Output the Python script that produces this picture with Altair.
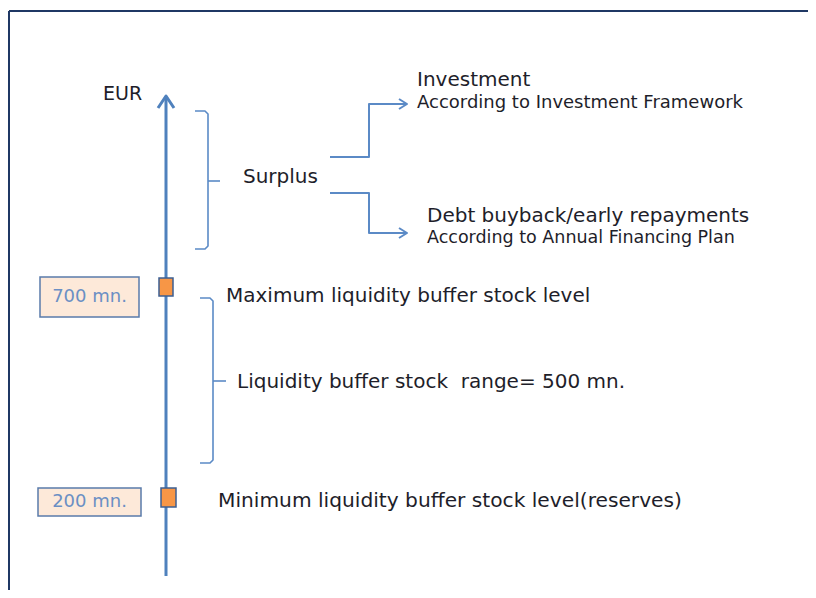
import altair as alt
import pandas as pd

# ---- diagram content (canvas coordinates, y grows downward) ----
# text labels
label_text = [
    "EUR",
    "Surplus",
    "Investment",
    "According to Investment Framework",
    "Debt buyback/early repayments",
    "According to Annual Financing Plan",
    "Maximum liquidity buffer stock level",
    "Liquidity buffer stock\u00a0 range= 500 mn.",
    "Minimum liquidity buffer stock level(reserves)",
]
label_x = [103, 243, 417, 417, 427, 427, 226, 237, 218]
label_y = [94, 177, 80, 103, 216, 238, 296, 382, 501]
label_size = [19, 20, 20, 18, 20, 17.5, 20, 20, 20.2]

# level boxes (700 mn. / 200 mn.)
level_text = ["700 mn.", "200 mn."]
box_x1 = [40, 38]
box_x2 = [139, 141]
box_y1 = [277, 488]
box_y2 = [317, 516]

# orange level markers on the axis
marker_x1 = [159, 161]
marker_x2 = [173, 176]
marker_y1 = [278, 488]
marker_y2 = [296, 507]

# polylines: (path id, list of x, list of y)
border_paths = {
    "top": ([9, 816], [11, 11]),
    "left": ([9, 9], [11, 598]),
}
axis_paths = {
    "axis": ([166, 166], [97, 576]),
    "head": ([158, 166, 174], [108, 96, 108]),
}
connector_paths = {
    "up": ([330, 369, 369, 406], [157, 157, 104, 104]),
    "up_head": ([399, 407, 399], [99, 104, 109]),
    "down": ([330, 369, 369, 406], [193, 193, 233, 233]),
    "down_head": ([399, 407, 399], [228, 233, 238]),
}
bracket_paths = {
    "b1": ([195, 205, 208, 208, 205, 195], [111, 111, 114, 246, 249, 249]),
    "b1_tick": ([208, 220], [181, 181]),
    "b2": ([200, 210, 213, 213, 210, 200], [298, 298, 301, 460, 463, 463]),
    "b2_tick": ([213, 226], [381, 381]),
}


def paths_df(paths):
    rows = []
    for pid, (xs, ys) in paths.items():
        for i, (x, y) in enumerate(zip(xs, ys)):
            rows.append({"path": pid, "o": i, "x": x, "y": y})
    return pd.DataFrame(rows)


X_SCALE = alt.Scale(domain=[8, 808], nice=False, zero=False)
Y_SCALE = alt.Scale(domain=[8, 590], nice=False, zero=False, reverse=True)


def line_layer(paths, color, width):
    return alt.Chart(paths_df(paths)).mark_line(
        color=color, strokeWidth=width, strokeJoin="round", strokeCap="butt"
    ).encode(
        x=alt.X("x:Q", scale=X_SCALE, axis=None),
        y=alt.Y("y:Q", scale=Y_SCALE, axis=None),
        detail="path:N",
        order="o:Q",
    )


BLUE = "#4f81bd"

border = line_layer(border_paths, "#1f3864", 2)
axis = line_layer(axis_paths, BLUE, 3)
connectors = line_layer(connector_paths, "#5b8ac6", 2)
brackets = line_layer(bracket_paths, "#5b8ac6", 1.6)

boxes_df = pd.DataFrame({
    "label": level_text, "x1": box_x1, "x2": box_x2, "y1": box_y1, "y2": box_y2,
})
boxes = alt.Chart(boxes_df).mark_rect(
    fill="#fde9d9", stroke="#5a7bab", strokeWidth=1.5
).encode(
    x=alt.X("x1:Q", scale=X_SCALE, axis=None), x2="x2:Q",
    y=alt.Y("y1:Q", scale=Y_SCALE, axis=None), y2="y2:Q",
)
box_text = alt.Chart(boxes_df).transform_calculate(
    cx="(datum.x1 + datum.x2) / 2", cy="(datum.y1 + datum.y2) / 2"
).mark_text(
    align="center", baseline="middle", font="DejaVu Sans", fontSize=18, color="#6b8fc4"
).encode(
    x=alt.X("cx:Q", scale=X_SCALE, axis=None),
    y=alt.Y("cy:Q", scale=Y_SCALE, axis=None),
    text="label:N",
)

markers_df = pd.DataFrame({
    "x1": marker_x1, "x2": marker_x2, "y1": marker_y1, "y2": marker_y2,
})
markers = alt.Chart(markers_df).mark_rect(
    fill="#f79646", stroke="#3c5f92", strokeWidth=1.5
).encode(
    x=alt.X("x1:Q", scale=X_SCALE, axis=None), x2="x2:Q",
    y=alt.Y("y1:Q", scale=Y_SCALE, axis=None), y2="y2:Q",
)

labels_df = pd.DataFrame({
    "text": label_text, "x": label_x, "y": label_y, "size": label_size,
})
labels = alt.Chart(labels_df).mark_text(
    align="left", baseline="middle", font="DejaVu Sans", color="#1e1e2a"
).encode(
    x=alt.X("x:Q", scale=X_SCALE, axis=None),
    y=alt.Y("y:Q", scale=Y_SCALE, axis=None),
    text="text:N",
    size=alt.Size("size:Q", scale=None, legend=None),
)

chart = alt.layer(
    border, axis, connectors, brackets, boxes, box_text, markers, labels
).properties(
    width=800, height=582, padding=0, autosize=alt.AutoSizeParams(type="none"),
    background="white",
).configure_view(stroke=None)

chart.save("out.html", embed_options={"renderer": "svg", "actions": False})
